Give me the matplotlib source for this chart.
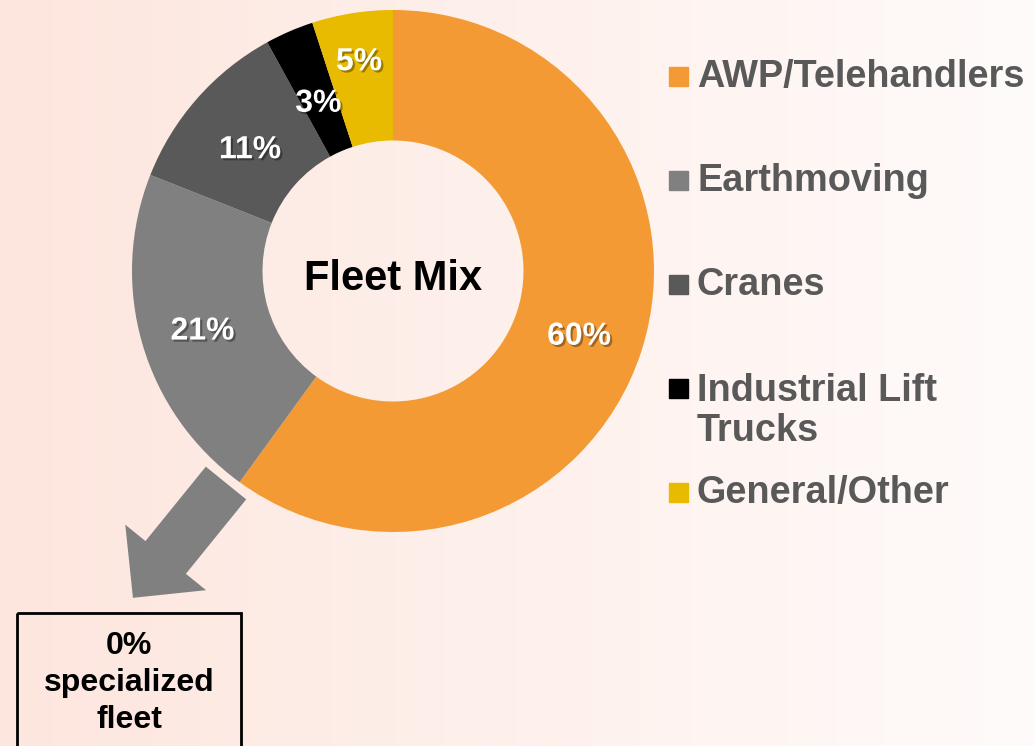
import matplotlib.pyplot as plt
import matplotlib.patheffects as pe
import numpy as np
from matplotlib.patches import FancyArrow, Rectangle

plt.rcParams['font.family'] = ['Liberation Sans', 'DejaVu Sans']

# data
categories = ['AWP/Telehandlers', 'Earthmoving', 'Cranes', 'Industrial Lift\nTrucks', 'General/Other']
shares = [60, 21, 11, 3, 5]
colors = ['#F49A34', '#808080', '#595959', '#000000', '#E8BA00']
label_dist = [0.75, 0.76, 0.73, 0.72, 0.83]
legend_y = [76, 180, 284, 410, 492]

W, H = 1035, 746
fig = plt.figure(figsize=(W / 100, H / 100), dpi=100)

# background gradient + overlay in pixel coords
bg = fig.add_axes([0, 0, 1, 1])
bg.set_xlim(0, W)
bg.set_ylim(H, 0)
bg.axis('off')
left = np.array([253, 230, 222]) / 255
right = np.array([255, 251, 250]) / 255
t = np.linspace(0, 1, 256)[None, :, None]
grad = left + (right - left) * t
bg.imshow(grad, extent=[0, W, H, 0], aspect='auto', zorder=0)

# donut
cx, cy, r = 393, 271, 261
pie_ax = fig.add_axes([(cx - r) / W, 1 - (cy + r) / H, 2 * r / W, 2 * r / H])
wedges, texts, autotexts = pie_ax.pie(
    shares, colors=colors, startangle=90, counterclock=False,
    wedgeprops=dict(width=0.5, linewidth=0),
    autopct='%d%%', pctdistance=0.75,
    textprops=dict(color='white', fontsize=23, fontweight='bold'))
for w, at, d in zip(wedges, autotexts, label_dist):
    ang = np.deg2rad((w.theta1 + w.theta2) / 2)
    at.set_position((d * np.cos(ang), d * np.sin(ang) - 0.02))
    at.set_path_effects([pe.withSimplePatchShadow(offset=(1.5, -1.5), shadow_rgbFace='black', alpha=0.35)])
pie_ax.set_xlim(-1, 1)
pie_ax.set_ylim(-1, 1)
pie_ax.text(0, -0.03, 'Fleet Mix', ha='center', va='center', fontsize=30, fontweight='bold', color='black')

# legend
for lab, col, y in zip(categories, colors, legend_y):
    yy = y if '\n' not in lab else 388
    bg.add_patch(Rectangle((669, yy - 9), 19, 19, color=col, zorder=3))
    bg.text(697, y + 1, lab, ha='left', va='center', fontsize=27.3, fontweight='bold',
            color='#595959', linespacing=1.17, zorder=3)

# arrow
bg.add_patch(FancyArrow(226, 483, -94 * 0.99, 116 * 0.99, width=52, head_width=104, head_length=52,
                        length_includes_head=True, color='#808080', linewidth=0, zorder=3))

# box
bg.add_patch(Rectangle((17, 613), 224, 150, facecolor='none', edgecolor='black', linewidth=2, zorder=3))
bg.text(129, 683, '0%\nspecialized\nfleet', ha='center', va='center', fontsize=23,
        fontweight='bold', color='black', linespacing=1.32, zorder=3)

fig.savefig('out.png', dpi=100)
